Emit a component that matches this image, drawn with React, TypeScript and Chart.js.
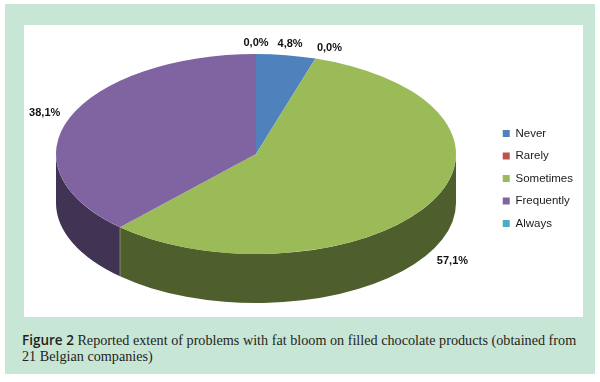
import React, { useEffect, useRef } from 'react';
import { Chart, registerables } from 'chart.js';

Chart.register(...registerables);

// ---- data ----
const categories = ['Never', 'Rarely', 'Sometimes', 'Frequently', 'Always'];
const shares = [4.8, 0.0, 57.1, 38.1, 0.0];
const topColors = ['#4F81BD', '#C0504D', '#9BBB59', '#8064A2', '#4BACC6'];
const sideColors = ['#283F5F', '#602826', '#4E5E2C', '#413353', '#255663'];

// ---- 3D look (style) ----
const TILT = 0.5; // ry / rx
const DEPTH = 0.49; // depth / ry
const LABEL_DX = 27;
const LABEL_DY = 11;

function geom(chart: any) {
  const ca = chart.chartArea;
  const h = ca.bottom - ca.top;
  const ry = h / (2 + DEPTH);
  const rx = ry / TILT;
  return { cx: ca.left + rx, cy: ca.top + ry, rx, ry, depth: ry * DEPTH };
}

const pie3d = {
  id: 'pie3d',
  beforeDatasetsDraw(chart: any) {
    const meta = chart.getDatasetMeta(0);
    const g = geom(chart);
    const ctx = chart.ctx as CanvasRenderingContext2D;
    ctx.save();
    const bounds: number[] = [];
    meta.data.forEach((arc: any, i: number) => {
      const { startAngle, endAngle } = arc.getProps(['startAngle', 'endAngle'], true);
      for (const off of [0, 2 * Math.PI, -2 * Math.PI]) {
        const a0 = Math.max(startAngle + off, 0);
        const a1 = Math.min(endAngle + off, Math.PI);
        if (a1 <= a0) continue;
        ctx.beginPath();
        ctx.ellipse(g.cx, g.cy, g.rx, g.ry, 0, a0, a1, false);
        ctx.ellipse(g.cx, g.cy + g.depth, g.rx, g.ry, 0, a1, a0, true);
        ctx.closePath();
        ctx.fillStyle = sideColors[i];
        ctx.fill();
        if (a0 > 0.001) bounds.push(a0);
      }
    });
    bounds.forEach((a) => {
      const x = g.cx + g.rx * Math.cos(a);
      const y = g.cy + g.ry * Math.sin(a);
      ctx.beginPath();
      ctx.moveTo(x, y);
      ctx.lineTo(x, y + g.depth);
      ctx.strokeStyle = 'rgba(200,200,200,0.6)';
      ctx.lineWidth = 0.8;
      ctx.stroke();
    });
    ctx.restore();

    const arc0 = meta.data[0];
    const R = arc0.outerRadius;
    ctx.save();
    ctx.translate(g.cx, g.cy);
    ctx.scale(g.rx / R, g.ry / R);
    ctx.translate(-arc0.x, -arc0.y);
  },
  afterDatasetsDraw(chart: any) {
    const ctx = chart.ctx as CanvasRenderingContext2D;
    ctx.restore();
    const meta = chart.getDatasetMeta(0);
    const g = geom(chart);
    ctx.save();
    ctx.font = 'bold 11px "Liberation Sans", Arial, sans-serif';
    ctx.fillStyle = '#111';
    ctx.textAlign = 'center';
    ctx.textBaseline = 'middle';
    meta.data.forEach((arc: any, i: number) => {
      const { startAngle, endAngle } = arc.getProps(['startAngle', 'endAngle'], true);
      const mid = (startAngle + endAngle) / 2;
      const s = Math.sin(mid);
      const c = Math.cos(mid);
      const x = g.cx + (g.rx + LABEL_DX) * c + (shares[i] === 0 && c > 0.2 ? 6 : 0);
      const y = g.cy + (g.ry + LABEL_DY) * s + (s > 0.05 ? g.depth + 2 : 0);
      const txt = shares[i].toFixed(1).replace('.', ',') + '%';
      ctx.fillText(txt, x, y);
    });
    ctx.restore();
  },
};

export default function App() {
  const ref = useRef<HTMLCanvasElement | null>(null);
  useEffect(() => {
    if (!ref.current) return;
    const chart = new Chart(ref.current, {
      type: 'pie',
      data: {
        labels: categories,
        datasets: [
          {
            data: shares,
            backgroundColor: topColors,
            borderWidth: 0,
            clip: false,
          } as any,
        ],
      },
      options: {
        animation: false,
        responsive: true,
        maintainAspectRatio: false,
        layout: { padding: { left: 32, top: 29, bottom: 14, right: 0 } },
        plugins: {
          legend: {
            position: 'right',
            labels: {
              boxWidth: 7,
              boxHeight: 7,
              padding: 11,
              color: '#1a1a1a',
              font: { family: '"Liberation Sans", Arial, sans-serif', size: 11.5 },
            },
          },
          tooltip: { enabled: false },
        },
      },
      plugins: [pie3d],
    });
    return () => chart.destroy();
  }, []);

  return (
    <div style={{ position: 'absolute', left: 0, top: 0, width: 600, height: 382, background: '#fff', overflow: 'hidden' }}>
      <div style={{ position: 'absolute', left: 5, top: 4, width: 590, height: 370, background: '#C8E6D6' }} />
      <div style={{ position: 'absolute', left: 24, top: 25, width: 559, height: 292, background: '#fff' }}>
        <canvas ref={ref} />
      </div>
      <div
        style={{
          position: 'absolute',
          left: 22,
          top: 332,
          width: 570,
          fontFamily: '"Liberation Serif", "Times New Roman", serif',
          fontSize: 14.2,
          lineHeight: '16px',
          color: '#231F20',
          whiteSpace: 'nowrap',
        }}
      >
        <span style={{ fontFamily: '"Open Sans", "Noto Sans", sans-serif', fontWeight: 600, fontSize: 13.5 }}>Figure 2</span>{' '}
        Reported extent of problems with fat bloom on filled chocolate products (obtained from
        <br />
        21 Belgian companies)
      </div>
    </div>
  );
}
